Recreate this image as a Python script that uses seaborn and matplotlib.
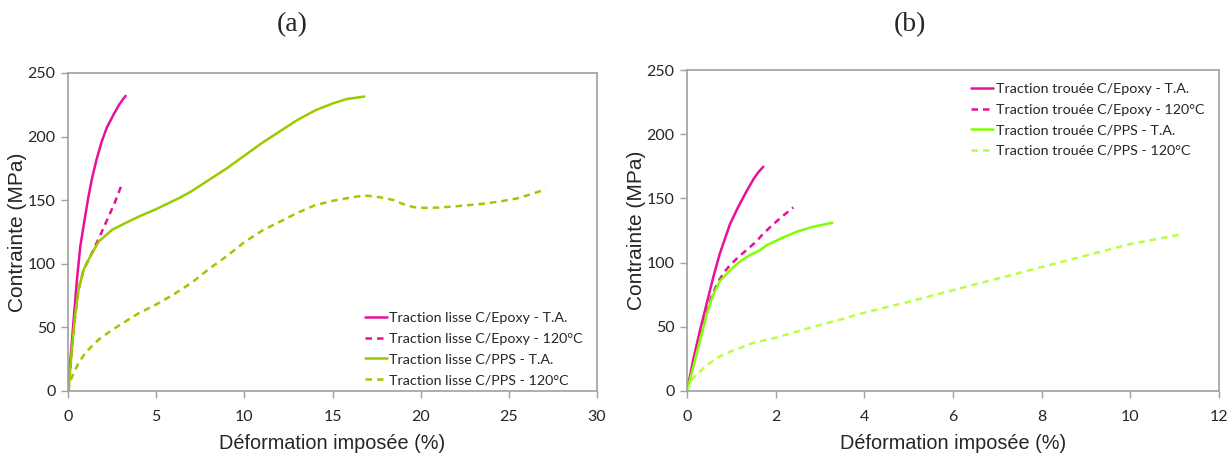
import matplotlib
matplotlib.use('Agg')
import matplotlib.pyplot as plt
import seaborn as sns
import pandas as pd

# -------------------------------------------------------------
# Data (strain %, stress MPa)
# -------------------------------------------------------------
# (a) smooth specimens
a_epoxy_ta_x = [0, 0.04, 0.2, 0.32, 0.51, 0.7, 0.98, 1.15, 1.36, 1.6, 1.91, 2.2, 2.57, 2.9, 3.1, 3.27]
a_epoxy_ta_y = [0, 9, 35, 56, 88, 114, 138, 152, 167, 181, 196, 207, 217, 225, 229, 232]
a_epoxy_120_x = [0, 0.04, 0.23, 0.42, 0.6, 0.89, 1.27, 1.75, 2.2, 2.65, 3.08]
a_epoxy_120_y = [0, 1, 35, 61, 80, 95.5, 106, 120, 134, 148, 163.5]
a_pps_ta_x = [0, 0.04, 0.23, 0.42, 0.6, 0.89, 1.27, 1.74, 2.5, 3.25, 4, 5, 6.35, 7, 8, 9,
              10, 11, 12, 13, 14, 15, 15.8, 16.8]
a_pps_ta_y = [0, 1, 35, 61, 80, 95.5, 106, 117.5, 126.7, 132, 137, 143, 152, 157, 166, 175,
              185, 195, 204, 213, 220.5, 226, 229.5, 231.5]
a_pps_120_x = [0, 0.04, 0.32, 0.6, 0.98, 1.74, 2.5, 3.25, 4.0, 5, 6, 7, 8, 9, 10, 11, 12, 13,
               14, 15, 16, 16.7, 17.0, 17.7, 18.5, 19.0, 19.6, 20.2, 21, 22, 23.4, 24.5, 25.5,
               26.2, 27.1]
a_pps_120_y = [0, 5, 14, 22, 30, 40.5, 48, 54.6, 61, 68, 76, 85, 96, 106, 117, 126, 133, 140,
               146, 149.5, 152, 153.5, 153.5, 152.3, 150, 147, 144.5, 144, 144.2, 145.2, 147,
               149, 151.5, 154.5, 158.5]

# (b) notched specimens
b_epoxy_ta_x = [0, 0.135, 0.29, 0.44, 0.59, 0.74, 0.97, 1.15, 1.35, 1.5, 1.6, 1.72]
b_epoxy_ta_y = [0, 23.4, 46.8, 67.5, 88.3, 107, 130, 143, 156, 165, 170, 174.6]
b_epoxy_120_x = [0, 0.135, 0.29, 0.44, 0.55, 0.7, 0.85, 0.97, 1.15, 1.35, 1.55, 1.72, 1.95,
                 2.15, 2.4]
b_epoxy_120_y = [0, 19, 40, 60, 73, 85, 93, 98, 104, 110, 116, 122.5, 130, 136, 143]
b_pps_ta_x = [0, 0.135, 0.29, 0.44, 0.59, 0.75, 1.0, 1.2, 1.4, 1.64, 1.8, 2.1, 2.47, 2.85, 3.28]
b_pps_ta_y = [0, 18, 39, 59, 75, 86, 95, 101, 105.5, 109.5, 113.5, 118.5, 124, 128, 131]
b_pps_120_x = [0, 0.135, 0.44, 0.74, 1.0, 1.5, 2.0, 2.5, 3.0, 3.5, 4.0, 5.0, 6.0, 7.0,
               8.0, 9.0, 10.0, 11.16]
b_pps_120_y = [0, 10, 20, 27, 31, 37.5, 41.5, 46.5, 51.5, 56, 61, 69.5, 78.5, 87.5,
               96.5, 105.5, 114.5, 122]

labels_a = ["Traction lisse C/Epoxy - T.A.", "Traction lisse C/Epoxy - 120°C",
            "Traction lisse C/PPS - T.A.", "Traction lisse C/PPS - 120°C"]
labels_b = ["Traction trouée C/Epoxy - T.A.", "Traction trouée C/Epoxy - 120°C",
            "Traction trouée C/PPS - T.A.", "Traction trouée C/PPS - 120°C"]

MAGENTA = "#E8109A"
GREEN_A = "#99CC00"
GREEN_B = "#80FF00"
GREEN_B_LIGHT = "#B8FF40"

sns.set_theme(style="white")
plt.rcParams['font.family'] = ['Liberation Sans', 'DejaVu Sans']

fig = plt.figure(figsize=(12.27, 4.55), dpi=100)
ax_a = fig.add_axes([68 / 1227, 1 - 391 / 455, (597 - 68) / 1227, (391 - 73) / 455])
ax_b = fig.add_axes([687 / 1227, 1 - 391 / 455, (1219 - 687) / 1227, (391 - 70) / 455])


def draw_series(ax, xs, ys, label, color, dashed):
    df = pd.DataFrame({"x": xs, "y": ys})
    sns.lineplot(data=df, x="x", y="y", ax=ax, sort=False, color=color,
                 lw=1.8, label=label)
    line = ax.lines[-1]
    line.set_solid_joinstyle("round")
    line.set_dash_joinstyle("round")
    if dashed:
        line.set_dashes([2.6, 2.0])


panel_a = [(a_epoxy_ta_x, a_epoxy_ta_y, MAGENTA, False),
           (a_epoxy_120_x, a_epoxy_120_y, MAGENTA, True),
           (a_pps_ta_x, a_pps_ta_y, GREEN_A, False),
           (a_pps_120_x, a_pps_120_y, GREEN_A, True)]
panel_b = [(b_epoxy_ta_x, b_epoxy_ta_y, MAGENTA, False),
           (b_epoxy_120_x, b_epoxy_120_y, MAGENTA, True),
           (b_pps_ta_x, b_pps_ta_y, GREEN_B, False),
           (b_pps_120_x, b_pps_120_y, GREEN_B_LIGHT, True)]

for (xs, ys, c, d), lab in zip(panel_a, labels_a):
    draw_series(ax_a, xs, ys, lab, c, d)
for (xs, ys, c, d), lab in zip(panel_b, labels_b):
    draw_series(ax_b, xs, ys, lab, c, d)

for ax, xmax, xstep in [(ax_a, 30, 5), (ax_b, 12, 2)]:
    ax.set_xlim(0, xmax)
    ax.set_ylim(0, 250)
    ax.set_xticks(range(0, xmax + 1, xstep))
    ax.set_yticks(range(0, 251, 50))
    for sp in ax.spines.values():
        sp.set_color("#A0A0A0")
        sp.set_linewidth(1.2)
    ax.tick_params(axis="both", direction="out", length=5, width=1, color="#A0A0A0",
                   labelsize=11.5, pad=4, bottom=True, left=True)
    ax.tick_params(axis="x", pad=9)
    for t in ax.get_xticklabels() + ax.get_yticklabels():
        t.set_fontfamily(['Lato', 'DejaVu Sans'])
    ax.set_xlabel("Déformation imposée (%)", fontsize=14.3, labelpad=7)
    ax.set_ylabel("Contrainte (MPa)", fontsize=15, labelpad=0)

leg_kw = dict(frameon=False, handlelength=1.55, handletextpad=0.15, labelspacing=0.6,
              borderaxespad=0.3, prop={'family': ['Lato', 'DejaVu Sans'], 'size': 10.3})
ax_a.legend(loc="lower right", bbox_to_anchor=(0.992, -0.016), **leg_kw)
ax_b.legend(loc="upper right", bbox_to_anchor=(0.9906, 0.9907), **leg_kw)

fig.text(292 / 1227, 1 - 25 / 455, "(a)", ha="center", va="center", fontsize=20,
         family=['Liberation Serif', 'DejaVu Serif'])
fig.text(910 / 1227, 1 - 25 / 455, "(b)", ha="center", va="center", fontsize=20,
         family=['Liberation Serif', 'DejaVu Serif'])

fig.savefig("out.png", dpi=100)
